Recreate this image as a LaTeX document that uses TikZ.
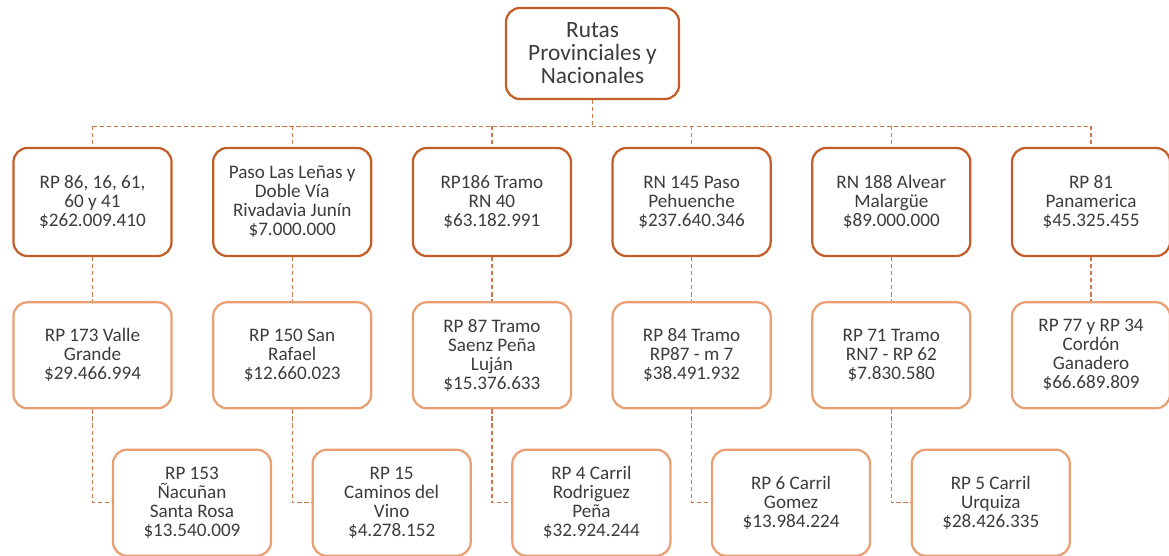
\documentclass[tikz,border=0pt]{standalone}
\usepackage{fontspec}
\setmainfont{Carlito}
\usepackage{xcolor}
\usepackage{tikz}
\usetikzlibrary{positioning}
\definecolor{rutadark}{RGB}{196,94,40}
\definecolor{rutalight}{RGB}{232,160,115}
\definecolor{rutaline}{RGB}{204,118,74}
\definecolor{rutatext}{RGB}{60,60,60}

\begin{document}
\begin{tikzpicture}[x=0.025cm, y=-0.025cm, every node/.style={text=rutatext}]
		\tikzstyle{box}=[rectangle, rounded corners=0.35cm, fill=white, line width=1.6pt, align=center, inner sep=2pt, font=\fontsize{13.6}{13.5}\selectfont, minimum width=3.95cm]
		\tikzstyle{darkbox}=[box, draw=rutadark, minimum height=2.7cm]
		\tikzstyle{lightbox}=[box, draw=rutalight, minimum height=2.65cm]
		\tikzstyle{conn}=[draw=rutaline, line width=0.9pt, dash pattern=on 3pt off 2pt]
		
		\useasboundingbox (0,0) rectangle (1169,556);
		
		\node[darkbox, minimum width=4.325cm, minimum height=2.275cm, font=\fontsize{16.6}{16.4}\selectfont] (rutas) at (592.5,53.5) {Rutas\\Provinciales y\\Nacionales};
		\coordinate[below=0.65cm of rutas] (bus);
		
		%primera fila
		\node[darkbox] (rp86) at (92.5,202) {RP 86, 16, 61,\\60 y 41\\\$262.009.410};
		\node[darkbox, right=0.985cm of rp86] (lenas) {Paso Las Leñas y\\Doble Vía\\Rivadavia Junín\\\$7.000.000};
		\node[darkbox, right=0.985cm of lenas] (rp186) {RP186 Tramo\\RN 40\\\$63.182.991};
		\node[darkbox, right=0.985cm of rp186] (rn145) {RN 145 Paso\\Pehuenche\\\$237.640.346};
		\node[darkbox, right=0.985cm of rn145] (rn188) {RN 188 Alvear\\Malargüe\\\$89.000.000};
		\node[darkbox, right=0.985cm of rn188] (rp81) {RP 81\\Panamerica\\\$45.325.455};
		
		%segunda fila
		\node[lightbox, below=1.1cm of rp86] (rp173) {RP 173 Valle\\Grande\\\$29.466.994};
		\node[lightbox, below=1.1cm of lenas] (rp150) {RP 150 San\\Rafael\\\$12.660.023};
		\node[lightbox, below=1.1cm of rp186] (rp87) {RP 87 Tramo\\Saenz Peña\\Luján\\\$15.376.633};
		\node[lightbox, below=1.1cm of rn145] (rp84) {RP 84 Tramo\\RP87 - m 7\\\$38.491.932};
		\node[lightbox, below=1.1cm of rn188] (rp71) {RP 71 Tramo\\RN7 - RP 62\\\$7.830.580};
		\node[lightbox, below=1.1cm of rp81] (rp77) {RP 77 y RP 34\\Cordón\\Ganadero\\\$66.689.809};
		
		%tercera fila
		\node[lightbox, below right=0.98cm and -1.52cm of rp173] (rp153) {RP 153\\Ñacuñan\\Santa Rosa\\\$13.540.009};
		\node[lightbox, below right=0.98cm and -1.52cm of rp150] (rp15) {RP 15\\Caminos del\\Vino\\\$4.278.152};
		\node[lightbox, below right=0.98cm and -1.52cm of rp87] (rp4) {RP 4 Carril\\Rodriguez\\Peña\\\$32.924.244};
		\node[lightbox, below right=0.98cm and -1.52cm of rp84] (rp6) {RP 6 Carril\\Gomez\\\$13.984.224};
		\node[lightbox, below right=0.98cm and -1.52cm of rp71] (rp5) {RP 5 Carril\\Urquiza\\\$28.426.335};
		
		%conexiones
		\draw[conn] (rutas) -- (bus);
		\draw[conn] (rp86 |- bus) -- (rp81 |- bus);
		\draw[conn] (rp86 |- bus) -- (rp86);
		\draw[conn] (lenas |- bus) -- (lenas);
		\draw[conn] (rp186 |- bus) -- (rp186);
		\draw[conn] (rn145 |- bus) -- (rn145);
		\draw[conn] (rn188 |- bus) -- (rn188);
		\draw[conn] (rp81 |- bus) -- (rp81);
		
		\path (rp86) edge[conn] (rp173);
		\path (lenas) edge[conn] (rp150);
		\path (rp186) edge[conn] (rp87);
		\path (rn145) edge[conn] (rp84);
		\path (rn188) edge[conn] (rp71);
		\path (rp81) edge[conn] (rp77);
		
		\draw[conn] (rp173) |- (rp153);
		\draw[conn] (rp150) |- (rp15);
		\draw[conn] (rp87) |- (rp4);
		\draw[conn] (rp84) |- (rp6);
		\draw[conn] (rp71) |- (rp5);
		
	\end{tikzpicture}
\end{document}
